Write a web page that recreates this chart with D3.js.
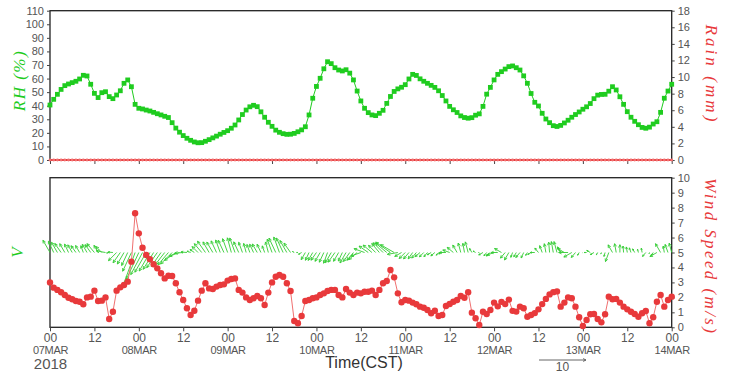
<!DOCTYPE html>
<html>
<head>
<meta charset="utf-8">
<title>RH Rain Wind</title>
<style>
body { margin: 0; background: #fff; }
svg text { font-family: "Liberation Sans", Arial, sans-serif; }
.axis text { fill: #555; font-size: 11px; }
.axis line { stroke: #444; }
.frame { fill: none; stroke: #222; stroke-width: 1.3; }
.ttl { font-family: "Liberation Serif", "DejaVu Serif", serif; font-style: italic; font-size: 17px; }
</style>
</head>
<body>
<script src="https://d3js.org/d3.v7.min.js"></script>
<script>
// hourly data, 07MAR 00 .. 14MAR 00 (CST)
var days = ["07MAR", "08MAR", "09MAR", "10MAR", "11MAR", "12MAR", "13MAR", "14MAR"];
var year = "2018";

var rh = [40.5, 44.7, 48.4, 52, 54.8, 56, 57, 58, 59.7, 62.4, 61.9, 55.8, 49.1, 46, 49.6, 50.3, 46.7, 45.2, 47.9, 51, 56.5, 59, 54, 41, 38.1,
  37.6, 36.8, 36.1, 35.1, 34.1, 33.2, 32.2,
  31.3, 27.5, 23.5, 20.5, 18, 16, 14.5, 13.3, 12.7, 12.8, 13.8, 15, 16.3, 17.6, 19, 20.3, 21.6, 23.4, 25.8, 29.5, 33.5, 36.8, 39.2, 40.3,
  39.3, 35.5, 31.5, 27.8, 24.8, 22, 20.4, 19.4, 18.9, 19, 19.6, 20.8, 22.2, 24.5, 33.2, 45.5, 54.2, 60.2, 67.2, 72.4,
  71, 68, 66.3, 65.6, 66.5, 64,
  59, 50.8, 43.5, 38.1, 34.9, 33.2, 32.7, 34.4, 36.6, 41.7, 46.8, 50.5, 52.4, 53.6, 55.5, 59.7, 63.1, 62.3, 59.8, 58, 56.5, 55, 53.5,
  51, 47.5, 43.5, 39.5, 37, 35, 32.5, 31.3, 30.8, 31.2, 33, 34, 39.5, 48.5, 53.5,
  59, 63.1, 65.1, 67, 68.8, 69.3, 68, 66.3, 62, 56.5, 49, 42.5, 39.8, 34.4, 30.2, 27.5, 25.3, 24.7, 25.5, 27.3, 29.3, 31.5, 33.5, 35.4,
  37.4, 39.2, 41.6, 45.2, 47.8, 48.3, 48.4, 50.7, 54, 51.6, 46.6, 41, 35.6, 31.5, 28.5, 26, 24, 23.4, 24.2, 26.5, 28.2, 35.1, 45.5, 50.8, 55.8];

var rain = [0,0,0,0,0,0,0,0,0,0,0,0,0,0,0,0,0,0,0,0,0,0,0,0,
  0,0,0,0,0,0,0,0,0,0,0,0,0,0,0,0,0,0,0,0,0,0,0,0,
  0,0,0,0,0,0,0,0,0,0,0,0,0,0,0,0,0,0,0,0,0,0,0,0,
  0,0,0,0,0,0,0,0,0,0,0,0,0,0,0,0,0,0,0,0,0,0,0,0,
  0,0,0,0,0,0,0,0,0,0,0,0,0,0,0,0,0,0,0,0,0,0,0,0,
  0,0,0,0,0,0,0,0,0,0,0,0,0,0,0,0,0,0,0,0,0,0,0,0,
  0,0,0,0,0,0,0,0,0,0,0,0,0,0,0,0,0,0,0,0,0,0,0,0, 0];

var windSpeed = [3.0, 2.65, 2.5, 2.34, 2.16, 1.98, 1.87, 1.76, 1.71, 1.54, 2.0, 2.05, 2.45, 1.76, 1.78, 2.0, 0.55, 1.04, 2.45, 2.67,
  2.83, 3.05, 4.39, 7.62, 6.28, 5.32, 4.83, 4.55, 4.21, 3.94, 3.61, 3.27, 3.45, 3.43, 2.94, 2.34, 1.82, 1.27, 0.82, 1.11,
  1.78, 2.45, 2.94, 2.6, 2.56, 2.72, 2.83, 2.87, 3.12, 3.23, 3.27, 2.5, 2.32, 2.0,
  1.82, 1.94, 2.09, 1.94, 1.49, 2.32, 3.0, 3.38, 3.5, 3.38, 2.94, 2.43, 0.42, 0.27, 0.76, 1.76, 1.82, 1.94, 2.0, 2.16,
  2.27, 2.43, 2.5, 2.5, 2.16, 2.0, 2.56, 2.32, 2.16, 2.32, 2.27, 2.38, 2.38, 2.45, 2.16, 2.5, 2.94, 3.09, 3.83, 3.34,
  2.27, 1.67, 1.82, 1.78, 1.65, 1.54, 1.38, 1.31, 1.16, 0.94, 1.11, 0.76, 0.82, 1.42, 1.56, 1.71, 1.82, 2.09, 1.98, 2.34,
  0.98, 0.6, 0.15, 1.04, 0.89, 1.16,
  1.65, 1.4, 1.7, 1.55, 1.85, 1.1, 1.05, 1.38, 1.27, 0.71, 0.82, 0.95, 1.2, 1.55, 1.9, 2.2, 2.35, 2.4, 1.38, 1.65,
  2.0, 1.94, 1.38, 0.67, 0.09, 0.49, 0.87, 0.89, 0.55, 0.33, 0.87, 2.05, 1.87, 1.9, 1.65, 1.38, 1.2, 1.04, 0.89, 0.71,
  0.94, 1.09, 0.27, 0.67, 1.71, 2.16, 1.38, 1.82, 2.05];

// direction the wind blows from, degrees
var windDir = [150, 155, 150, 145, 150, 155, 150, 145, 150, 160, 150, 145, 140, 150, 135,
  100, 80, 95,
  45, 35, 30, 25, 25,
  20, 25, 28, 30, 30, 32, 35, 35, 38, 40, 45, 55,
  70, 85, 95, 110,
  125, 135, 140, 145, 150, 150,
  155, 160, 155, 160, 165, 160, 155, 160, 165, 160, 155, 150, 155, 160, 165, 160, 155, 160, 155, 150, 145,
  120, 90, 60,
  30, 25, 30, 35, 30, 25, 20, 30, 35, 30, 25, 30, 35, 40, 50, 70,
  110, 125, 130, 135, 140, 135, 130, 125, 120,
  80, 60, 45, 40, 35, 40, 50, 45, 40, 60, 50, 40, 70, 90, 110, 130, 150,
  165, 170, 165, 150,
  120, 90, 60, 40, 50, 70, 90, 120,
  40, 30, 20, 30, 40, 25, 30, 60, 90,
  140, 160, 170, 175, 170, 165, 150, 120,
  90, 60, 40, 30,
  60, 90, 120, 60, 30, 20, 15,
  20,
  150, 170, 180, 175, 170, 160, 150, 165, 170,
  40, 20, 30, 60,
  150, 170, 160, 165];

var vecBase = 5;    // vectors drawn from this wind-speed level
var refVector = 10; // reference arrow, m/s

var green = "#1fcc1f", red = "#e8393b";
var W = 746, H = 374;

var svg = d3.select("body").append("svg").attr("width", W).attr("height", H);

var x = d3.scaleLinear().domain([0, rh.length - 1]).range([50, 671.7]);
var yRH = d3.scaleLinear().domain([0, 110]).range([160, 10.7]);
var yRain = d3.scaleLinear().domain([0, 18]).range([160, 10.7]);
var yWS = d3.scaleLinear().domain([0, 10]).range([327.3, 177.7]);
var vec = d3.scaleLinear().domain([0, 10]).range([0, 47]);

var xTicks = d3.range(0, rh.length, 12);

// ---------- top panel ----------
svg.append("rect").attr("class", "frame")
  .attr("x", x(0)).attr("y", yRH(110)).attr("width", x(168) - x(0)).attr("height", yRH(0) - yRH(110));

svg.append("g").attr("class", "axis")
  .attr("transform", "translate(" + x(0) + ",0)")
  .call(d3.axisLeft(yRH).tickValues(d3.range(0, 111, 10)).tickSize(3).tickPadding(3))
  .call(function(g) { g.select(".domain").remove(); });

svg.append("g").attr("class", "axis")
  .attr("transform", "translate(" + x(168) + ",0)")
  .call(d3.axisRight(yRain).tickValues(d3.range(0, 19, 2)).tickSize(3).tickPadding(3))
  .call(function(g) { g.select(".domain").remove(); });

svg.append("g").attr("class", "axis")
  .attr("transform", "translate(0," + yRH(0) + ")")
  .call(d3.axisBottom(x).tickValues(xTicks).tickSize(4).tickFormat(""))
  .call(function(g) { g.select(".domain").remove(); });

svg.append("path").datum(rh)
  .attr("fill", "none").attr("stroke", green).attr("stroke-width", 1)
  .attr("d", d3.line().x(function(d, i) { return x(i); }).y(function(d) { return yRH(d); }));

svg.append("g").selectAll("rect").data(rh).join("rect")
  .attr("x", function(d, i) { return x(i) - 2.4; })
  .attr("y", function(d) { return yRH(d) - 2.4; })
  .attr("width", 4.8).attr("height", 4.8)
  .attr("fill", green);

svg.append("path").datum(rain)
  .attr("fill", "none").attr("stroke", red).attr("stroke-width", 2.2)
  .attr("d", d3.line().x(function(d, i) { return x(i); }).y(function(d) { return yRain(d); }));

svg.append("g").selectAll("circle").data(rain).join("circle")
  .attr("cx", function(d, i) { return x(i); })
  .attr("cy", function(d) { return yRain(d); })
  .attr("r", 1.4).attr("fill", "#f07070");

svg.append("text").attr("class", "ttl")
  .attr("transform", "translate(19," + yRH(58) + ") rotate(-90)")
  .attr("text-anchor", "middle").attr("dominant-baseline", "central")
  .attr("textLength", 60).attr("lengthAdjust", "spacing")
  .attr("fill", green).text("RH (%)");

svg.append("text").attr("class", "ttl")
  .attr("transform", "translate(711," + yRain(10.5) + ") rotate(90)")
  .attr("text-anchor", "middle").attr("dominant-baseline", "central")
  .attr("textLength", 97).attr("lengthAdjust", "spacing")
  .attr("fill", red).text("Rain (mm)");

// ---------- bottom panel ----------
svg.append("rect").attr("class", "frame")
  .attr("x", x(0)).attr("y", yWS(10)).attr("width", x(168) - x(0)).attr("height", yWS(0) - yWS(10));

svg.append("g").attr("class", "axis")
  .attr("transform", "translate(" + x(168) + ",0)")
  .call(d3.axisRight(yWS).tickValues(d3.range(0, 11, 1)).tickSize(3).tickPadding(3))
  .call(function(g) { g.select(".domain").remove(); });

var xAx = svg.append("g").attr("class", "axis")
  .attr("transform", "translate(0," + yWS(0) + ")")
  .call(d3.axisBottom(x).tickValues(xTicks).tickSize(4).tickPadding(2)
    .tickFormat(function(d) { return d % 24 === 0 ? "00" : "12"; }))
  .call(function(g) { g.select(".domain").remove(); });

xAx.selectAll(".tick text").style("font-size", "12px");

// day and year lines under the 00 ticks
xAx.selectAll(".tick").filter(function(d) { return d % 24 === 0; })
  .each(function(d) {
    var g = d3.select(this);
    g.append("text").attr("y", 26.5).attr("fill", "#555").style("font-size", "11px")
      .attr("letter-spacing", -0.3).text(days[d / 24]);
    if (d === 0) {
      g.append("text").attr("y", 41.5).attr("fill", "#555").style("font-size", "15px").text(year);
    }
  });

svg.append("text")
  .attr("x", 364).attr("y", 368)
  .attr("text-anchor", "middle").attr("font-size", 16).attr("fill", "#333")
  .text("Time(CST)");

// wind vectors
function arrowPath(x0, y0, dx, dy) {
  var len = Math.sqrt(dx * dx + dy * dy);
  var x1 = x0 + dx, y1 = y0 + dy;
  var p = "M" + x0 + "," + y0 + "L" + x1 + "," + y1;
  if (len > 0.5) {
    var h = Math.min(3.2, len * 0.4), a = Math.atan2(dy, dx), s = 0.45;
    p += "M" + (x1 - h * Math.cos(a - s)) + "," + (y1 - h * Math.sin(a - s)) +
         "L" + x1 + "," + y1 +
         "L" + (x1 - h * Math.cos(a + s)) + "," + (y1 - h * Math.sin(a + s));
  }
  return p;
}

svg.append("g").selectAll("path").data(windSpeed).join("path")
  .attr("fill", "none").attr("stroke", "#33cc33").attr("stroke-width", 0.9)
  .attr("d", function(d, i) {
    var r = windDir[i] * Math.PI / 180;
    var u = -d * Math.sin(r), v = -d * Math.cos(r);
    return arrowPath(x(i), yWS(vecBase), vec(u), -vec(v));
  });

// wind speed
svg.append("path").datum(windSpeed)
  .attr("fill", "none").attr("stroke", "#f07070").attr("stroke-width", 1)
  .attr("d", d3.line().x(function(d, i) { return x(i); }).y(function(d) { return yWS(d); }));

svg.append("g").selectAll("circle").data(windSpeed).join("circle")
  .attr("cx", function(d, i) { return x(i); })
  .attr("cy", function(d) { return yWS(d); })
  .attr("r", 3.2).attr("fill", red);

svg.append("text").attr("class", "ttl")
  .attr("transform", "translate(17," + yWS(5) + ") rotate(-90)")
  .attr("text-anchor", "middle").attr("dominant-baseline", "central")
  .attr("fill", green).text("V");

svg.append("text").attr("class", "ttl")
  .attr("transform", "translate(710," + yWS(4.8) + ") rotate(90)")
  .attr("text-anchor", "middle").attr("dominant-baseline", "central")
  .attr("textLength", 155).attr("lengthAdjust", "spacing")
  .attr("fill", red).text("Wind Speed (m/s)");

// reference vector
svg.append("path")
  .attr("fill", "none").attr("stroke", "#666").attr("stroke-width", 1)
  .attr("d", arrowPath(539, 360, vec(refVector), 0));

svg.append("text")
  .attr("x", 539 + vec(refVector) / 2).attr("y", 371)
  .attr("text-anchor", "middle").attr("font-size", 12).attr("fill", "#555")
  .text(refVector);
</script>
</body>
</html>
